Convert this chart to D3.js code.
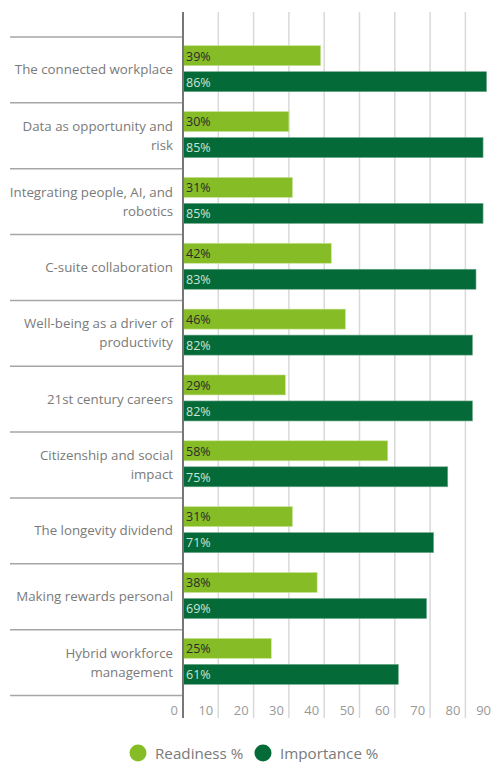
<!DOCTYPE html>
<html>
<head>
<meta charset="utf-8">
<script src="https://cdn.jsdelivr.net/npm/d3@7"></script>
<style>
  body { margin: 0; background: #fff; }
  text { font-family: "Open Sans", sans-serif; }
</style>
</head>
<body>
<div id="chart"></div>
<script>
var categories = [
    "The connected workplace",
    "Data as opportunity and risk",
    "Integrating people, AI, and robotics",
    "C-suite collaboration",
    "Well-being as a driver of productivity",
    "21st century careers",
    "Citizenship and social impact",
    "The longevity dividend",
    "Making rewards personal",
    "Hybrid workforce management"
];
var readiness = [39, 30, 31, 42, 46, 29, 58, 31, 38, 25];
var importance = [86, 85, 85, 83, 82, 82, 75, 71, 69, 61];
var xTicks = [0, 10, 20, 30, 40, 50, 60, 70, 80, 90];
var seriesNames = ["Readiness %", "Importance %"];

(function () {
    var width = 492,
        height = 762;
    var lightGreen = "#86bc25",
        darkGreen = "#046a38";

    var svg = d3.select("#chart")
        .append("svg")
        .attr("width", width)
        .attr("height", height);

    var x = d3.scaleLinear().domain([0, 90]).range([183, 500.7]);
    var y = d3.scaleBand().domain(categories).range([37, 695.5]);

    // gridlines, running down into the tick label area
    svg.selectAll(".grid")
        .data(xTicks.slice(1))
        .enter().append("line")
        .attr("class", "grid")
        .attr("x1", function (d) { return x(d); })
        .attr("x2", function (d) { return x(d); })
        .attr("y1", 12)
        .attr("y2", 718)
        .style("stroke", "#d9d9d9")
        .style("stroke-width", 1.5);

    // separators between categories
    var seps = y.domain().map(function (d) { return y(d); }).concat([y.range()[1]]);
    svg.selectAll(".sep")
        .data(seps)
        .enter().append("line")
        .attr("class", "sep")
        .attr("x1", 10)
        .attr("x2", 183)
        .attr("y1", function (d) { return d; })
        .attr("y2", function (d) { return d; })
        .style("stroke", "#a6a6a6")
        .style("stroke-width", 1.5);

    // tick labels
    svg.selectAll(".tick-label")
        .data(xTicks)
        .enter().append("text")
        .attr("class", "tick-label")
        .attr("x", function (d) { return Math.min(x(d) - 5, 491); })
        .attr("y", 715)
        .attr("text-anchor", "end")
        .style("font-size", "13px")
        .style("fill", "#999")
        .text(function (d) { return d; });

    var rows = categories.map(function (c, i) {
        return { cat: c, r: readiness[i], imp: importance[i] };
    });

    var group = svg.selectAll(".row")
        .data(rows)
        .enter().append("g")
        .attr("class", "row")
        .attr("transform", function (d) { return "translate(0," + y(d.cat) + ")"; });

    group.append("rect")
        .attr("x", x(0))
        .attr("y", 8.7)
        .attr("width", function (d) { return x(d.r) - x(0); })
        .attr("height", 20)
        .style("fill", lightGreen)
        .style("stroke", "#c9e39a")
        .style("stroke-width", 0.6);

    group.append("rect")
        .attr("x", x(0))
        .attr("y", 34.7)
        .attr("width", function (d) { return x(d.imp) - x(0); })
        .attr("height", 20)
        .style("fill", darkGreen)
        .style("stroke", "#6fa88a")
        .style("stroke-width", 0.6);

    group.append("text")
        .attr("x", x(0) + 3)
        .attr("y", 23.5)
        .style("font-size", "12.5px")
        .style("fill", "#2b2b2b")
        .text(function (d) { return d.r + "%"; });

    group.append("text")
        .attr("x", x(0) + 3)
        .attr("y", 49.5)
        .style("font-size", "12.5px")
        .style("fill", "#cfe3d6")
        .text(function (d) { return d.imp + "%"; });

    // category labels, wrapped to fit the left column
    group.append("text")
        .attr("class", "cat")
        .attr("text-anchor", "end")
        .style("font-size", "13.3px")
        .style("fill", "#7a7a7a")
        .each(function (d) {
            var el = d3.select(this);
            var words = d.cat.split(" "),
                lines = [],
                line = [];
            var probe = el.append("tspan");
            words.forEach(function (w) {
                line.push(w);
                probe.text(line.join(" "));
                if (probe.node().getComputedTextLength() > 164 && line.length > 1) {
                    line.pop();
                    lines.push(line.join(" "));
                    line = [w];
                }
            });
            lines.push(line.join(" "));
            probe.remove();
            var mid = y.bandwidth() / 2 + 4.5;
            var lh = 19;
            lines.forEach(function (l, i) {
                el.append("tspan")
                    .attr("x", 173)
                    .attr("y", mid + (i - (lines.length - 1) / 2) * lh)
                    .text(l);
            });
        });

    // left axis line
    svg.append("line")
        .attr("x1", x(0))
        .attr("x2", x(0))
        .attr("y1", 12)
        .attr("y2", 718)
        .style("stroke", "#777")
        .style("stroke-width", 2);

    // legend
    var legend = svg.selectAll(".legend")
        .data(seriesNames)
        .enter().append("g")
        .attr("class", "legend")
        .attr("transform", function (d, i) { return "translate(" + (138 + i * 125) + ",753)"; });

    legend.append("circle")
        .attr("r", 8.5)
        .style("fill", function (d, i) { return i === 0 ? lightGreen : darkGreen; });

    legend.append("text")
        .attr("x", 17)
        .attr("y", 5.5)
        .style("font-size", "15.2px")
        .style("fill", "#7a7a7a")
        .text(function (d) { return d; });
})();
</script>
</body>
</html>
